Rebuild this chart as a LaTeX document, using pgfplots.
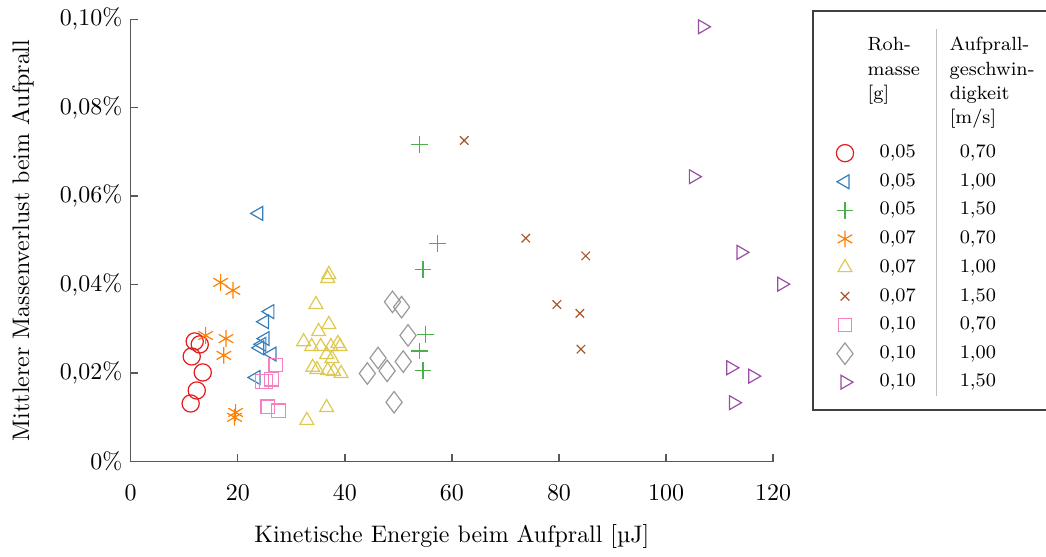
\documentclass[border=0pt]{standalone}
\usepackage{pgfplots}
\pgfplotsset{compat=1.18}
\definecolor{cRed}{HTML}{E41A1C}
\definecolor{cBlue}{HTML}{377EB8}
\definecolor{cGreen}{HTML}{4DAF4A}
\definecolor{cOrange}{HTML}{FF7F00}
\definecolor{cYellow}{RGB}{222,200,80}
\definecolor{cBrown}{HTML}{A65628}
\definecolor{cPink}{HTML}{F781BF}
\definecolor{cGray}{HTML}{999999}
\definecolor{cPurple}{HTML}{984EA3}
\newcommand{\legrow}[2]{\hspace*{5pt}\makebox[29.3pt][l]{#1}\hspace*{4.2pt}#2}
\newcommand{\hc}[1]{\makebox[34.3pt][l]{#1}}
\begin{document}
\begin{tikzpicture}
\begin{axis}[
  width=268.6pt, height=184.9pt, scale only axis,
  xmin=0, xmax=120, ymin=0, ymax=0.1,
  axis lines=left, axis line style={-, black!65, line width=0.6pt},
  tick align=inside, major tick length=3pt, tick style={black!65, line width=0.6pt},
  xtick={0,20,40,60,80,100,120},
  ytick={0,0.02,0.04,0.06,0.08,0.1},
  yticklabels={{0\%},{0,02\%},{0,04\%},{0,06\%},{0,08\%},{0,10\%}},
  xticklabel shift=6.3pt,
  xlabel shift=3.2pt,
  ylabel shift=4pt,
  xlabel={Kinetische Energie beim Aufprall [µJ]},
  ylabel={Mittlerer Massenverlust beim Aufprall},
  clip=false,
  legend cell align=left,
  legend style={at={(1.0607,1.0204)}, anchor=north west, draw=black!75,
    line width=0.6pt, fill=none, font=\footnotesize,
    inner xsep=4.9pt, inner ysep=6.2pt, column sep=3.9pt, row sep=1.1pt},
  every axis plot/.append style={only marks, line width=0.5pt},
]
\addlegendimage{empty legend}
\addlegendentry{\def\arraystretch{1.07}\raisebox{2.2pt}{\begin{tabular}[b]{@{}l@{}l@{}}\hc{\rule{0pt}{8.5pt}Roh-} & Aufprall-\\ \hc{masse} & geschwin-\\ \hc{[g]} & digkeit\\ \hc{} & \relax[m/s]\end{tabular}}}

\addplot[cRed, mark=o, mark size=3.6pt] coordinates {
(11.96,0.02715)(12.9,0.02647)(11.4,0.02376)(13.46,0.02014)(12.34,0.01606)(11.2,0.01312)};
\addlegendentry{\legrow{0,05}{0,70}}

\addplot[cBlue, mark=triangle, mark size=3.35pt, every mark/.append style={rotate=90}] coordinates {
(26.0,0.0339)(25.0,0.0316)(25.1,0.0278)(24.5,0.0265)(24.1,0.0257)(26.4,0.0243)(23.4,0.0190)(23.9,0.0561)};
\addlegendentry{\legrow{0,05}{1,00}}

\addplot[cGreen, mark=+, mark size=3.5pt] coordinates {
(53.9,0.0717)(57.3,0.0493)(54.6,0.0435)(55.1,0.0287)(53.9,0.0250)(54.6,0.0205)};
\addlegendentry{\legrow{0,05}{1,50}}

\addplot[cOrange, mark=asterisk, mark size=3.5pt] coordinates {
(16.8,0.0405)(19.1,0.0387)(14.0,0.0285)(17.8,0.0278)(17.4,0.0240)(19.6,0.0111)(19.4,0.0100)};
\addlegendentry{\legrow{0,07}{0,70}}

\addplot[cYellow, mark=triangle, mark size=3.35pt] coordinates {
(37.0,0.0423)(36.8,0.0414)(34.6,0.0355)(37.0,0.0310)(35.1,0.0294)(32.3,0.0271)(33.8,0.0260)(35.5,0.0260)(37.4,0.0260)(38.7,0.0267)(39.1,0.0260)(36.6,0.0242)(37.6,0.0233)(34.0,0.0213)(34.8,0.0208)(36.8,0.0206)(37.9,0.0204)(39.3,0.0199)(36.6,0.0122)(32.9,0.0093)};
\addlegendentry{\legrow{0,07}{1,00}}

\addplot[cBrown, mark=x, mark size=2.5pt] coordinates {
(62.3,0.0726)(73.8,0.0505)(85.0,0.0465)(79.6,0.0355)(83.9,0.0335)(84.1,0.0254)};
\addlegendentry{\legrow{0,07}{1,50}}

\addplot[cPink, mark=square, mark size=2.8pt] coordinates {
(27.1,0.0218)(26.3,0.0186)(25.3,0.0181)(24.5,0.0181)(25.6,0.0124)(27.6,0.0115)};
\addlegendentry{\legrow{0,10}{0,70}}

\addplot[cGray, mark=diamond, mark size=4.5pt] coordinates {
(48.9,0.0361)(50.6,0.0349)(51.8,0.0285)(46.2,0.0234)(50.9,0.0226)(47.9,0.0205)(44.2,0.0199)(49.2,0.0134)};
\addlegendentry{\legrow{0,10}{1,00}}

\addplot[cPurple, mark=triangle, mark size=3.35pt, every mark/.append style={rotate=-90}] coordinates {
(106.8,0.0983)(105.1,0.0644)(114.0,0.0473)(121.6,0.0401)(112.1,0.0212)(116.2,0.0193)(112.6,0.0133)};
\addlegendentry{\legrow{0,10}{1,50}}

\coordinate (sepT) at (axis description cs:1.2539,0.978);
\coordinate (sepB) at (axis description cs:1.2539,0.147);
\end{axis}
\draw[black!25, line width=0.6pt] (sepT) -- (sepB);
\coordinate (BBsw) at (current bounding box.south west);
\coordinate (BBne) at (current bounding box.north east);
\pgfresetboundingbox
\useasboundingbox ([xshift=-1.7pt]BBsw) rectangle ([xshift=-2.4pt]BBne);
\end{tikzpicture}
\end{document}
